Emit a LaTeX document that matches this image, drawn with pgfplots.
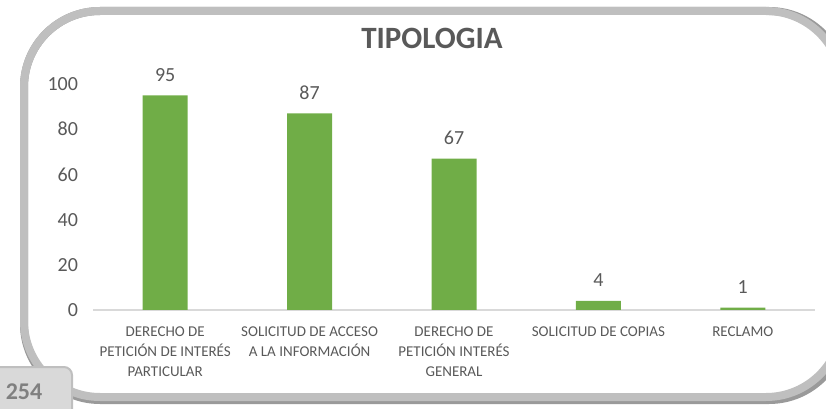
\documentclass[border=0pt]{standalone}
\usepackage{pgfplots}
\pgfplotsset{compat=1.18}
\usepackage{fontspec}
\setmainfont{Carlito}
\definecolor{bargreen}{HTML}{70AD47}
\definecolor{txt}{HTML}{595959}
\definecolor{frame}{HTML}{BFBFBF}
\definecolor{frameshadow}{HTML}{9A9A9A}
\definecolor{boxfill}{HTML}{D9D9D9}
\definecolor{axisgray}{HTML}{D9D9D9}
\begin{document}
\begin{tikzpicture}
\useasboundingbox (0,0) rectangle (413pt,204pt);
\begin{scope}
\clip (0,0) rectangle (413pt,204pt);
% frame shadow and frame
\draw[frameshadow, line width=4pt, rounded corners=38pt] (12pt,198.5pt) rectangle (422.5pt,4pt);
\draw[frame, line width=4pt, rounded corners=38pt] (12pt,198.5pt) rectangle (421pt,5.5pt);
% page number box
\draw[frame, fill=boxfill, line width=1pt, rounded corners=4pt] (-5pt,20.5pt) rectangle (36pt,-10pt);
\node[font=\fontsize{12}{14}\selectfont\bfseries, text=black!50] at (12pt,8pt) {254};
\end{scope}
\node[font=\fontsize{15.5}{18}\selectfont\bfseries, text=txt] at (216pt,185pt) {TIPOLOGIA};
\begin{axis}[
  at={(46.5pt,49pt)}, anchor=south west,
  scale only axis, width=361pt, height=113pt,
  xmin=-0.5, xmax=4.5, ymin=0, ymax=100,
  ytick={0,20,40,60,80,100},
  xtick={0,1,2,3,4},
  xticklabels={{DERECHO DE\\PETICIÓN DE INTERÉS\\PARTICULAR},{SOLICITUD DE ACCESO\\A LA INFORMACIÓN},{DERECHO DE\\PETICIÓN INTERÉS\\GENERAL},{SOLICITUD DE COPIAS},{RECLAMO}},
  xticklabel style={font=\fontsize{7.5}{10}\selectfont, text=txt, align=center, yshift=-5pt},
  yticklabel style={font=\fontsize{10}{12}\selectfont, text=txt, xshift=-4pt},
  /pgf/number format/assume math mode=true,
  axis line style={draw=none},
  major tick length=0pt,
  ybar, bar width=22.5pt,
  nodes near coords,
  nodes near coords style={font=\fontsize{10}{12}\selectfont, text=txt, yshift=3.5pt},
  clip=false,
]
\draw[axisgray, line width=0.8pt] (rel axis cs:0,0) -- (rel axis cs:1,0);
\addplot[draw=none, fill=bargreen] coordinates {(0,95) (1,87) (2,67) (3,4) (4,1)};
\end{axis}
\end{tikzpicture}
\end{document}
